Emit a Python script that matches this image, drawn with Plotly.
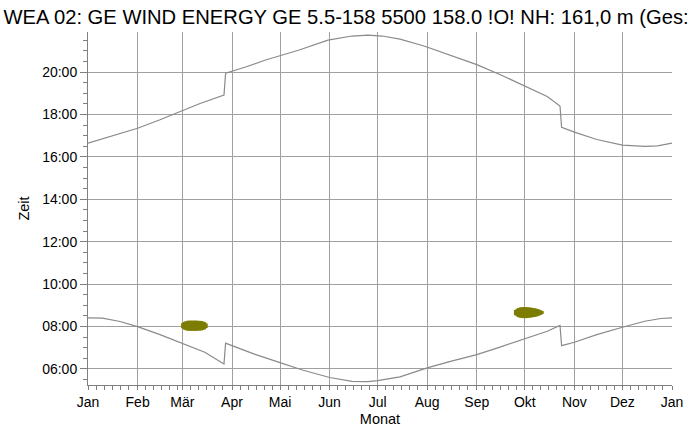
import plotly.graph_objects as go

# ---- data ----
title_text = "WEA 02: GE WIND ENERGY GE 5.5-158 5500 158.0 !O! NH: 161,0 m (Ges:"

month_ticks = ["2023-01-01", "2023-02-01", "2023-03-01", "2023-04-01", "2023-05-01", "2023-06-01",
               "2023-07-01", "2023-08-01", "2023-09-01", "2023-10-01", "2023-11-01", "2023-12-01",
               "2024-01-01"]
month_labels = ["Jan", "Feb", "Mär", "Apr", "Mai", "Jun", "Jul", "Aug", "Sep", "Okt", "Nov", "Dez", "Jan"]

hour_ticks = [6, 8, 10, 12, 14, 16, 18, 20]
hour_labels = ["06:00", "08:00", "10:00", "12:00", "14:00", "16:00", "18:00", "20:00"]

sunset_dates = ["2023-01-01", "2023-01-15", "2023-02-01", "2023-02-15", "2023-03-01", "2023-03-12",
                "2023-03-27", "2023-03-28", "2023-04-10", "2023-04-22", "2023-05-13", "2023-05-31",
                "2023-06-15", "2023-06-25", "2023-07-04", "2023-07-15", "2023-07-30", "2023-08-21",
                "2023-09-01", "2023-09-15", "2023-10-01", "2023-10-15", "2023-10-23", "2023-10-24",
                "2023-11-01", "2023-11-15", "2023-12-01", "2023-12-15", "2023-12-23", "2024-01-01"]
sunset_hours = [16.65, 16.95, 17.35, 17.75, 18.20, 18.52,
                18.92, 19.95, 20.25, 20.57, 21.04, 21.51,
                21.70, 21.74, 21.70, 21.55, 21.23, 20.66,
                20.35, 19.90, 19.35, 18.85, 18.40, 17.40,
                17.17, 16.82, 16.56, 16.50, 16.52, 16.65]

sunrise_dates = ["2023-01-01", "2023-01-10", "2023-01-21", "2023-02-01", "2023-02-15", "2023-03-01",
                 "2023-03-15", "2023-03-27", "2023-03-28", "2023-04-01", "2023-04-15", "2023-05-01",
                 "2023-05-15", "2023-06-01", "2023-06-15", "2023-06-25", "2023-07-01", "2023-07-15",
                 "2023-08-01", "2023-08-15", "2023-09-01", "2023-09-15", "2023-10-01", "2023-10-15",
                 "2023-10-23", "2023-10-24", "2023-11-01", "2023-11-15", "2023-12-01", "2023-12-15",
                 "2023-12-25", "2024-01-01"]
sunrise_hours = [8.41, 8.40, 8.24, 8.00, 7.62, 7.22,
                 6.79, 6.24, 7.22, 7.10, 6.70, 6.30,
                 5.95, 5.60, 5.42, 5.40, 5.45, 5.63,
                 6.05, 6.35, 6.68, 7.02, 7.43, 7.78,
                 8.05, 7.10, 7.26, 7.62, 7.97, 8.25,
                 8.38, 8.41]

# shadow flicker periods (per day: start and end time, hours)
flicker1_days = ["2023-03-%02d" % d for d in range(1, 17)]
flicker1_start = [7.92, 7.86, 7.83, 7.81, 7.80, 7.80, 7.80, 7.80, 7.80, 7.80, 7.81, 7.81, 7.82, 7.84, 7.87, 7.93]
flicker1_end = [8.16, 8.22, 8.25, 8.27, 8.28, 8.28, 8.28, 8.28, 8.28, 8.28, 8.27, 8.27, 8.26, 8.24, 8.21, 8.15]

flicker2_days = ["2023-09-25", "2023-09-26", "2023-09-27", "2023-09-28", "2023-09-29", "2023-09-30",
                 "2023-10-01", "2023-10-02", "2023-10-03", "2023-10-04", "2023-10-05", "2023-10-06",
                 "2023-10-07", "2023-10-08", "2023-10-09", "2023-10-10", "2023-10-11", "2023-10-12"]
flicker2_start = [8.54, 8.48, 8.44, 8.42, 8.41, 8.40, 8.40, 8.40, 8.41, 8.42, 8.43, 8.44, 8.45, 8.47, 8.49, 8.52, 8.55, 8.59]
flicker2_end = [8.78, 8.84, 8.88, 8.90, 8.91, 8.92, 8.92, 8.92, 8.91, 8.90, 8.89, 8.88, 8.87, 8.85, 8.83, 8.80, 8.77, 8.73]

# ---- build ----
FONT = "Liberation Sans, Arial, sans-serif"
LINE_C = "#8a8a8a"
GRID_C = "#a0a0a0"
AXIS_C = "#808080"
OLIVE = "#7d7d00"


def segments(days, starts, ends):
    xs, ys = [], []
    for d, s, e in zip(days, starts, ends):
        xs += [d, d, None]
        ys += [s, e, None]
    return xs, ys


fig = go.Figure()
fig.add_trace(go.Scatter(x=sunset_dates, y=sunset_hours, mode="lines",
                         line=dict(color=LINE_C, width=1.2), showlegend=False, hoverinfo="skip"))
fig.add_trace(go.Scatter(x=sunrise_dates, y=sunrise_hours, mode="lines",
                         line=dict(color=LINE_C, width=1.2), showlegend=False, hoverinfo="skip"))
for days, st, en in [(flicker1_days, flicker1_start, flicker1_end),
                     (flicker2_days, flicker2_start, flicker2_end)]:
    xs, ys = segments(days, st, en)
    fig.add_trace(go.Scatter(x=xs, y=ys, mode="lines", line=dict(color=OLIVE, width=2.6),
                             showlegend=False, hoverinfo="skip", connectgaps=False))

# minor x ticks every 5 days inside each month
minor_x = []
for m in month_ticks[:-1]:
    for d in (6, 11, 16, 21, 26):
        minor_x.append(m[:8] + "%02d" % d)

fig.update_layout(
    width=691, height=434,
    margin=dict(l=88, r=19, t=32, b=49, autoexpand=False),
    paper_bgcolor="white", plot_bgcolor="white",
    font=dict(family=FONT, size=14, color="black"),
    title=dict(text=title_text, x=0.005, xanchor="left", xref="container",
               y=1 - 17 / 434, yanchor="middle", yref="container",
               font=dict(family=FONT, size=20.2, color="black")),
    xaxis=dict(type="date", range=["2023-01-01", "2024-01-01"],
               tickmode="array", tickvals=month_ticks, ticktext=month_labels,
               ticks="outside", ticklen=4, tickcolor=AXIS_C,
               showgrid=True, gridcolor=GRID_C, gridwidth=1,
               showline=True, linecolor=AXIS_C, linewidth=1,
               zeroline=False,
               minor=dict(tickmode="array", tickvals=minor_x, ticks="outside", ticklen=4,
                          tickcolor=AXIS_C, showgrid=False),
               title=dict(text="Monat", standoff=5, font=dict(size=14.5))),
    yaxis=dict(range=[5.245, 21.89],
               tickmode="array", tickvals=hour_ticks, ticktext=hour_labels,
               ticks="outside", ticklen=7, tickcolor=AXIS_C,
               showgrid=True, gridcolor=GRID_C, gridwidth=1,
               showline=True, linecolor=AXIS_C, linewidth=1,
               zeroline=False,
               minor=dict(tick0=0, dtick=0.5, ticks="outside", ticklen=4,
                          tickcolor=AXIS_C, showgrid=False),
               title=dict(text="Zeit", standoff=9, font=dict(size=14.5))),
)

fig.write_html("out.html", config={"displayModeBar": False},
               post_script="document.body.style.margin='0';")
